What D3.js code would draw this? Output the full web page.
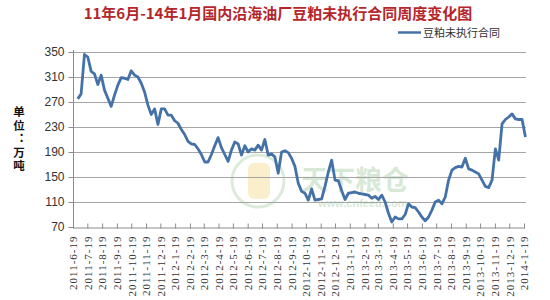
<!DOCTYPE html>
<html><head><meta charset="utf-8">
<script src="https://cdn.jsdelivr.net/npm/d3@7"></script>
<style>body{margin:0;background:#fff}svg{display:block}</style>
</head><body>
<script>
const title = "11年6月-14年1月国内沿海油厂豆粕未执行合同周度变化图";
const seriesName = "豆粕未执行合同";
const yAxisTitle = "单位：万吨";
const firstWeek = "2011-06-29";
const weeklyValues = [
275,283,346,342,319,315,298,313,289,276,
263,281,297,309,308,306,320,313,310,300,
286,265,250,259,234,259,259,249,249,240,
236,226,218,207,203,202,195,186,174,174,
186,200,213,197,186,175,193,206,203,185,
200,190,195,193,201,193,210,185,187,182,
156,190,192,189,180,167,140,127,124,113,
131,113,114,115,135,158,177,145,144,128,
114,124,125,126,124,123,122,121,116,119,
114,121,110,92,78,86,83,83,90,107,
102,101,94,86,80,86,97,110,113,107,
118,145,161,165,167,166,180,163,161,158,
155,145,135,133,145,195,177,235,242,246,
251,243,242,242,214];
const yTicks = [70,110,150,190,230,270,310,350];
const xTickLabels = ["2011-6-19","2011-7-19","2011-8-19","2011-9-19","2011-10-19","2011-11-19","2011-12-19",
"2012-1-19","2012-2-19","2012-3-19","2012-4-19","2012-5-19","2012-6-19","2012-7-19","2012-8-19","2012-9-19",
"2012-10-19","2012-11-19","2012-12-19","2013-1-19","2013-2-19","2013-3-19","2013-4-19","2013-5-19","2013-6-19",
"2013-7-19","2013-8-19","2013-9-19","2013-10-19","2013-11-19","2013-12-19","2014-1-19"];

const W=550,H=300;
const svg=d3.select("body").append("svg").attr("width",W).attr("height",H);
const parse=d3.timeParse("%Y-%m-%d");
const tickDates=xTickLabels.map(parse);
const start=parse(firstWeek);
const data=weeklyValues.map((v,i)=>({d:d3.timeDay.offset(start,7*i),v}));

const x=d3.scaleTime().domain([tickDates[0],tickDates[tickDates.length-1]]).range([73,524]);
const y=d3.scaleLinear().domain([70,350]).range([227,52]);

// watermark
const wm=svg.append("g").attr("opacity",0.35);
wm.append("circle").attr("cx",258).attr("cy",181).attr("r",26).attr("fill","none").attr("stroke","#9cc79c").attr("stroke-width",3);
wm.append("rect").attr("x",248).attr("y",163).attr("width",22).attr("height",36).attr("rx",6).attr("fill","#f2d36b");
wm.append("text").attr("x",301).attr("y",190).attr("font-family","Noto Sans CJK SC").attr("font-size",27).attr("font-weight","bold").attr("fill","#8fc08f").text("天下粮仓");
wm.append("text").attr("x",318).attr("y",207).attr("font-family","Liberation Sans").attr("font-size",11).attr("font-weight","bold").attr("fill","#8fc08f").text("www.cnfeed.com");

// gridlines
svg.append("g").selectAll("line").data(yTicks.filter(t=>t>70)).join("line")
 .attr("x1",73).attr("x2",526).attr("y1",d=>Math.round(y(d))+0.5).attr("y2",d=>Math.round(y(d))+0.5)
 .attr("stroke","#a6a6a6").attr("stroke-width",1);

// y axis
const yAxis=d3.axisLeft(y).tickValues(yTicks).tickSize(5).tickPadding(4);
const gy=svg.append("g").attr("transform","translate(73.5,0)").call(yAxis);
gy.select(".domain").attr("stroke","#8c8c8c").attr("d","M0,50V227");
gy.selectAll(".tick line").attr("stroke","#8c8c8c");
gy.selectAll("text").attr("font-family","Liberation Sans, Arial").attr("font-size",12).attr("fill","#333");

// x axis
const xAxis=d3.axisBottom(x).tickValues(tickDates).tickFormat((d,i)=>xTickLabels[i]).tickSize(0);
const gx=svg.append("g").attr("transform","translate(0,227.5)").call(xAxis);
gx.select(".domain").attr("stroke","#8c8c8c");
gx.selectAll(".tick").append("line").attr("y1",-4).attr("y2",1).attr("stroke","#8c8c8c");
gx.selectAll("text").attr("font-family","Liberation Serif, Times New Roman").attr("font-size",11).attr("fill","#333")
 .attr("letter-spacing","1px")
 .attr("text-anchor","end").attr("dy","0.35em").attr("transform","translate(0,8) rotate(-90)").attr("x",0).attr("y",0);

// line
svg.append("path").datum(data).attr("fill","none").attr("stroke","#4472a8").attr("stroke-width",2.8)
 .attr("stroke-linejoin","round").attr("d",d3.line().x(d=>x(d.d)).y(d=>y(d.v)));

// title
svg.append("text").attr("x",278).attr("y",19).attr("text-anchor","middle")
 .attr("font-family","Noto Sans CJK SC").attr("font-weight","bold").attr("font-size",15).attr("fill","#b5262b").text(title);

// legend
svg.append("line").attr("x1",398).attr("x2",421).attr("y1",32.5).attr("y2",32.5).attr("stroke","#4472a8").attr("stroke-width",2.5);
svg.append("text").attr("x",423).attr("y",36.5).attr("font-family","Noto Sans CJK SC").attr("font-size",11).attr("fill","#333").text(seriesName);

// y axis title (vertical)
svg.append("text").attr("x",19).attr("y",106)
 .style("writing-mode","vertical-rl").style("text-orientation","upright")
 .attr("letter-spacing","2px")
 .attr("font-family","Noto Sans CJK SC").attr("font-weight","bold").attr("font-size",11.5).attr("fill","#111").text(yAxisTitle);
</script>
</body></html>
